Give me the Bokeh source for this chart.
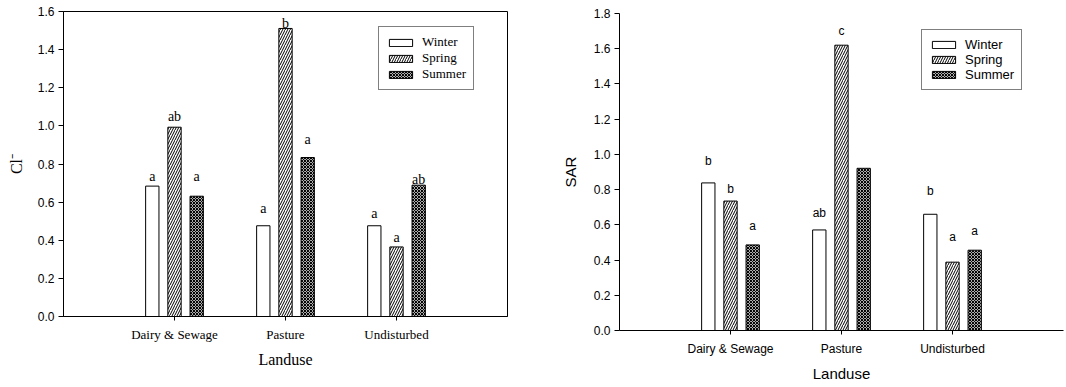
from bokeh.plotting import figure
from bokeh.layouts import row, column
from bokeh.models import Range1d, FixedTicker, Legend, LegendItem, ColumnDataSource
from bokeh.core.properties import value
from bokeh.embed import file_html
from bokeh.resources import INLINE

# ---- data -------------------------------------------------------------
landuse = ["Dairy & Sewage", "Pasture", "Undisturbed"]
seasons = ["Winter", "Spring", "Summer"]

# Chloride
cl_winter = [0.684, 0.476, 0.476]
cl_spring = [0.993, 1.511, 0.365]
cl_summer = [0.631, 0.834, 0.689]
cl_letters_winter = ["a", "a", "a"]
cl_letters_spring = ["ab", "b", "a"]
cl_letters_summer = ["a", "a", "ab"]
cl_letter_y_winter = [0.734, 0.568, 0.540]
cl_letter_y_spring = [1.049, 1.535, 0.414]
cl_letter_y_summer = [0.734, 0.927, 0.720]

# Sodium adsorption ratio
sar_winter = [0.838, 0.571, 0.660]
sar_spring = [0.735, 1.620, 0.388]
sar_summer = [0.486, 0.921, 0.456]
sar_letters_winter = ["b", "ab", "b"]
sar_letters_spring = ["b", "c", "a"]
sar_letters_summer = ["a", "", "a"]
sar_letter_y_winter = [0.962, 0.669, 0.794]
sar_letter_y_spring = [0.804, 1.702, 0.533]
sar_letter_y_summer = [0.594, 0.0, 0.567]

cl_ticks = [0.0, 0.2, 0.4, 0.6, 0.8, 1.0, 1.2, 1.4, 1.6]
sar_ticks = [0.0, 0.2, 0.4, 0.6, 0.8, 1.0, 1.2, 1.4, 1.6, 1.8]

# ---- styling ----------------------------------------------------------
SERIF = "Liberation Serif"
SANS = "Liberation Sans"
OFFSETS = [-0.2, 0.0, 0.2]
BAR_W = 0.12
BAR_STYLE = [
    dict(fill_color="white"),
    dict(fill_color="white", hatch_pattern="/", hatch_color="black",
         hatch_scale=5, hatch_weight=1.0),
    dict(fill_color="white", hatch_pattern="x", hatch_color="black",
         hatch_scale=3, hatch_weight=1.2),
]


def make_chart(series, letters, letter_y, ticks, y_end, ylabel,
               cat_font, cat_size, title_size, ylabel_font, letter_font,
               letter_size, legend_font, legend_xy, borders, outline,
               standoffs):
    left, right, top, bottom = borders
    p = figure(width=533, height=387, output_backend="svg",
               toolbar_location=None,
               x_range=Range1d(0, 4), y_range=Range1d(0, y_end),
               min_border_left=left, min_border_right=right,
               min_border_top=top, min_border_bottom=bottom)
    p.grid.visible = False
    p.outline_line_color = "black" if outline else None
    p.outline_line_width = 1
    p.background_fill_color = "white"
    p.border_fill_color = "white"

    items = []
    for k, (vals, lab, ly) in enumerate(zip(series, letters, letter_y)):
        xs = [i + 1 + OFFSETS[k] for i in range(len(landuse))]
        src = ColumnDataSource(dict(x=xs, top=vals))
        r = p.vbar(x="x", top="top", width=BAR_W, bottom=0, source=src,
                   line_color="black", line_width=1, **BAR_STYLE[k])
        items.append(LegendItem(label=seasons[k], renderers=[r]))
        keep = [j for j, t in enumerate(lab) if t]
        tsrc = ColumnDataSource(dict(x=[xs[j] for j in keep],
                                     y=[ly[j] for j in keep],
                                     t=[lab[j] for j in keep]))
        p.text(x="x", y="y", text="t", source=tsrc, text_align="center",
               text_baseline="middle", text_font=value(letter_font),
               text_font_size=letter_size, text_color="black")

    # axes
    p.xaxis.ticker = FixedTicker(ticks=[1, 2, 3])
    p.xaxis.major_label_overrides = {i + 1: n for i, n in enumerate(landuse)}
    p.xaxis.minor_tick_line_color = None
    p.xaxis.major_tick_in = 0
    p.xaxis.major_tick_out = 4
    p.xaxis.major_label_text_font = cat_font
    p.xaxis.major_label_text_font_size = cat_size
    p.xaxis.axis_label = "Landuse"
    p.xaxis.axis_label_text_font = cat_font
    p.xaxis.axis_label_text_font_size = title_size
    p.xaxis.axis_label_standoff = standoffs[1]
    p.xaxis.major_label_standoff = standoffs[0]

    p.yaxis.ticker = FixedTicker(ticks=ticks)
    p.yaxis.major_label_overrides = {t: f"{t:.1f}" for t in ticks}
    p.yaxis.minor_tick_line_color = None
    p.yaxis.major_tick_in = 0
    p.yaxis.major_tick_out = 5
    p.yaxis.major_label_text_font = SANS
    p.yaxis.major_label_text_font_size = "12px"
    p.yaxis.major_label_standoff = 4
    p.yaxis.axis_label = ylabel
    p.yaxis.axis_label_text_font = ylabel_font
    p.yaxis.axis_label_text_font_size = title_size
    p.yaxis.axis_label_standoff = standoffs[2]
    for ax in (p.xaxis, p.yaxis):
        ax.axis_line_color = "black"
        ax.major_tick_line_color = "black"
        ax.major_label_text_color = "black"
        ax.axis_label_text_color = "black"
        ax.axis_label_text_font_style = "normal"

    legend = Legend(items=items, location=legend_xy, orientation="vertical",
                    glyph_width=29, glyph_height=9, label_height=14,
                    label_text_line_height=1.0,
                    spacing=0, padding=7, margin=0, label_standoff=7,
                    label_text_font=legend_font, label_text_font_size="13px",
                    label_text_color="black",
                    border_line_color="black", border_line_width=1.2,
                    background_fill_alpha=1.0)
    p.add_layout(legend, "center")
    return p


left_chart = make_chart(
    [cl_winter, cl_spring, cl_summer],
    [cl_letters_winter, cl_letters_spring, cl_letters_summer],
    [cl_letter_y_winter, cl_letter_y_spring, cl_letter_y_summer],
    cl_ticks, 1.6, "Cl\u207b",
    SERIF, "13px", "16px", SERIF, SERIF, "14px", SERIF,
    (315, 226), (63, 26, 11, 71), True, (6, 6, 10))

right_chart = make_chart(
    [sar_winter, sar_spring, sar_summer],
    [sar_letters_winter, sar_letters_spring, sar_letters_summer],
    [sar_letter_y_winter, sar_letter_y_spring, sar_letter_y_summer],
    sar_ticks, 1.8, "SAR",
    SANS, "12px", "15px", SANS, SANS, "12px", SANS,
    (302, 240), (86, 3, 13, 57), False, (7, 6, 12))

layout = row(column(left_chart), column(right_chart))
open("out.html", "w").write(file_html(layout, INLINE))
